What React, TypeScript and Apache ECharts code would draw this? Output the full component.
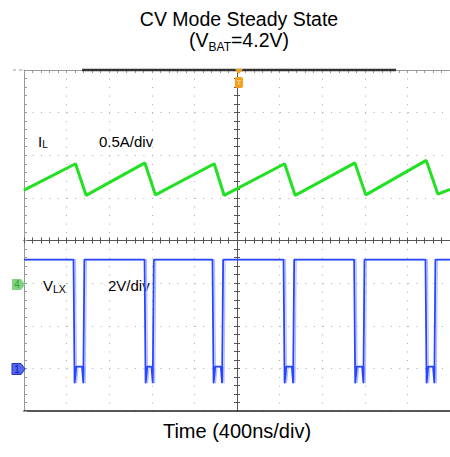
import React, { useEffect, useRef } from "react";
import * as echarts from "echarts";

const FONT = "'Liberation Sans', Arial, Helvetica, sans-serif";

// Horizontal: time in ns, 400 ns/div, 10 divisions, trigger at 0
const TIME_MIN = -2000;
const TIME_MAX = 2000;
const TIME_DIV = 400;
// Vertical screen divisions
const DIV_MIN = -4;
const DIV_MAX = 4;

// Inductor current I_L (A), 0.5 A/div, channel ground at -1 div
const IL_TIME = [-2000, -1516, -1417, -865, -766, -214, -121, 447, 546, 1107, 1209, 1777, 1886, 2000];
const IL_AMPS = [1.09, 1.40, 1.03, 1.41, 1.035, 1.40, 1.03, 1.40, 1.03, 1.41, 1.035, 1.44, 1.045, 1.10];
const IL_AXIS_MIN = -1.5;
const IL_AXIS_MAX = 2.5;

// Switch node V_LX (V), 2 V/div, channel ground at -3 div
const VLX_FALL = [-1535, -868, -230, 437, 1100, 1770];
const VLX_RISE = [-1433, -781, -130, 537, 1197, 1863];
const VLX_HIGH = 5.1;
const VLX_LOW = 0.08;
const VLX_SPIKE = -0.7;
const VLX_AXIS_MIN = -2;
const VLX_AXIS_MAX = 14;

function buildVlx(shift: number): number[][] {
  const pts: number[][] = [[TIME_MIN, VLX_HIGH]];
  VLX_FALL.forEach((f, i) => {
    const r = VLX_RISE[i];
    pts.push(
      [f + shift, VLX_HIGH],
      [f + shift + 10, VLX_SPIKE],
      [f + shift + 25, VLX_LOW],
      [r + shift - 22, VLX_LOW],
      [r + shift - 10, VLX_SPIKE],
      [r + shift, VLX_HIGH]
    );
  });
  pts.push([TIME_MAX, VLX_HIGH]);
  return pts;
}

const ilData = IL_TIME.map((t, i) => [t, IL_AMPS[i]]);

const GRID = { left: 24, top: 70, width: 430, height: 341 };
const DOT = [1, 7.53];
const GRID_DOT_COLOR = "#a8a8a8";
const BORDER_COLOR = "#9a9a9a";
const CENTER_COLOR = "#555555";

function App() {
  const ref = useRef<HTMLDivElement>(null);
  useEffect(() => {
    if (!ref.current) return;
    const chart = echarts.init(ref.current, undefined, { renderer: "svg" });
    const base = { type: "value", min: TIME_MIN, max: TIME_MAX, interval: TIME_DIV, axisLabel: { show: false } };
    const ybase = { type: "value", min: DIV_MIN, max: DIV_MAX, interval: 1, axisLabel: { show: false } };
    const option: any = {
      animation: false,
      backgroundColor: "#ffffff",
      grid: [{ ...GRID }, { ...GRID }, { ...GRID }],
      xAxis: [
        {
          ...base,
          gridIndex: 0,
          position: "bottom",
          axisLine: { show: true, onZero: false, lineStyle: { color: "#222", width: 1.5 } },
          axisTick: { show: false },
          splitLine: { show: true, lineStyle: { color: GRID_DOT_COLOR, width: 1, type: DOT } },
          name: "Time (400ns/div)",
          nameLocation: "middle",
          nameGap: 10,
          nameTextStyle: { fontSize: 20, color: "#000", fontFamily: FONT },
        },
        {
          ...base,
          gridIndex: 0,
          position: "top",
          axisLine: { show: true, onZero: false, lineStyle: { color: BORDER_COLOR, width: 1 } },
          axisTick: { show: true, inside: true, length: 3, lineStyle: { color: BORDER_COLOR } },
          minorTick: { show: true, splitNumber: 5, length: 3, lineStyle: { color: BORDER_COLOR } },
          splitLine: { show: false },
        },
        {
          ...base,
          gridIndex: 1,
          position: "bottom",
          axisLine: { show: true, onZero: true, onZeroAxisIndex: 2, lineStyle: { color: CENTER_COLOR, width: 1 } },
          axisTick: { show: true, inside: true, length: 3, lineStyle: { color: CENTER_COLOR } },
          minorTick: { show: true, splitNumber: 5, length: 3, lineStyle: { color: CENTER_COLOR } },
          splitLine: { show: false },
        },
        {
          ...base,
          gridIndex: 2,
          position: "bottom",
          axisLine: { show: true, onZero: true, onZeroAxisIndex: 4, lineStyle: { color: CENTER_COLOR, width: 1 } },
          axisTick: { show: true, inside: false, length: 3, lineStyle: { color: CENTER_COLOR } },
          minorTick: { show: true, splitNumber: 5, length: 3, lineStyle: { color: CENTER_COLOR } },
          splitLine: { show: false },
        },
      ],
      yAxis: [
        {
          ...ybase,
          gridIndex: 0,
          position: "left",
          axisLine: { show: true, onZero: false, lineStyle: { color: BORDER_COLOR, width: 1 } },
          axisTick: { show: true, inside: true, length: 3, lineStyle: { color: BORDER_COLOR } },
          minorTick: { show: true, splitNumber: 5, length: 3, lineStyle: { color: BORDER_COLOR } },
          splitLine: { show: true, lineStyle: { color: GRID_DOT_COLOR, width: 1, type: DOT } },
        },
        {
          type: "value",
          gridIndex: 0,
          position: "right",
          min: IL_AXIS_MIN,
          max: IL_AXIS_MAX,
          show: false,
          axisLine: { onZero: false },
        },
        {
          ...ybase,
          gridIndex: 1,
          position: "left",
          axisLine: { show: true, onZero: true, onZeroAxisIndex: 2, lineStyle: { color: CENTER_COLOR, width: 1 } },
          axisTick: { show: true, inside: true, length: 3, lineStyle: { color: CENTER_COLOR } },
          minorTick: { show: true, splitNumber: 5, length: 3, lineStyle: { color: CENTER_COLOR } },
          splitLine: { show: false },
        },
        {
          type: "value",
          gridIndex: 1,
          position: "right",
          min: VLX_AXIS_MIN,
          max: VLX_AXIS_MAX,
          show: false,
          axisLine: { onZero: false },
        },
        {
          ...ybase,
          gridIndex: 2,
          position: "left",
          axisLine: { show: true, onZero: true, onZeroAxisIndex: 3, lineStyle: { color: CENTER_COLOR, width: 1 } },
          axisTick: { show: true, inside: false, length: 3, lineStyle: { color: CENTER_COLOR } },
          minorTick: { show: true, splitNumber: 5, length: 3, lineStyle: { color: CENTER_COLOR } },
          splitLine: { show: false },
        },
      ],
      series: [
        {
          type: "line",
          xAxisIndex: 2,
          yAxisIndex: 3,
          data: buildVlx(18),
          showSymbol: false,
          symbol: "none",
          lineStyle: { color: "#b4bbff", width: 1.2 },
          z: 3,
        },
        {
          type: "line",
          xAxisIndex: 2,
          yAxisIndex: 3,
          data: buildVlx(0),
          showSymbol: false,
          symbol: "none",
          lineStyle: { color: "#2545ff", width: 1.8 },
          z: 4,
        },
        {
          type: "line",
          xAxisIndex: 0,
          yAxisIndex: 1,
          data: ilData,
          showSymbol: false,
          symbol: "none",
          lineStyle: { color: "#22e022", width: 3 },
          z: 5,
        },
      ],
      graphic: [
        {
          type: "text",
          x: 239,
          y: 7.5,
          style: {
            text: "{t|CV Mode Steady State}\n{m|(V}{s|BAT}{m|=4.2V)}",
            align: "center",
            verticalAlign: "top",
            fill: "#000",
            fontFamily: FONT,
            rich: {
              t: { fontSize: 19.5, lineHeight: 22, fontFamily: FONT, fill: "#000" },
              m: { fontSize: 19.5, lineHeight: 22, verticalAlign: "top", fontFamily: FONT, fill: "#000" },
              s: { fontSize: 12, lineHeight: 23, verticalAlign: "bottom", fontFamily: FONT, fill: "#000" },
            },
          },
        },
        {
          type: "text",
          x: 38,
          y: 134,
          style: {
            text: "{m|I}{s|L}",
            align: "left",
            verticalAlign: "top",
            fill: "#000",
            fontFamily: FONT,
            rich: {
              m: { fontSize: 15, lineHeight: 15, verticalAlign: "top", fontFamily: FONT, fill: "#000" },
              s: { fontSize: 10, lineHeight: 15, verticalAlign: "bottom", fontFamily: FONT, fill: "#000" },
            },
          },
        },
        {
          type: "text",
          x: 99,
          y: 141.5,
          style: { text: "0.5A/div", fontSize: 15, fontFamily: FONT, fill: "#000", align: "left", verticalAlign: "middle" },
        },
        {
          type: "text",
          x: 43,
          y: 278,
          style: {
            text: "{m|V}{s|LX}",
            align: "left",
            verticalAlign: "top",
            fill: "#000",
            fontFamily: FONT,
            rich: {
              m: { fontSize: 15, lineHeight: 15, verticalAlign: "top", fontFamily: FONT, fill: "#000" },
              s: { fontSize: 10.5, lineHeight: 16.5, verticalAlign: "bottom", fontFamily: FONT, fill: "#000" },
            },
          },
        },
        {
          type: "text",
          x: 108,
          y: 285.5,
          style: { text: "2V/div", fontSize: 15, fontFamily: FONT, fill: "#000", align: "left", verticalAlign: "middle" },
        },
        // record-length bar on top border
        { type: "line", z: 6, shape: { x1: 82, y1: 70, x2: 396, y2: 70 }, style: { stroke: "#333", lineWidth: 2.5 } },
        { type: "line", z: 6, shape: { x1: 13, y1: 70, x2: 24, y2: 70 }, style: { stroke: "#999", lineWidth: 1, lineDash: [3, 3] } },
        // trigger marker
        { type: "polygon", z: 10, shape: { points: [[235, 69], [243, 69], [239, 74]] }, style: { fill: "#f5a01a" } },
        { type: "rect", z: 10, shape: { x: 235, y: 77, width: 8, height: 11, r: 2 }, style: { fill: "#f5a01a" } },
        { type: "text", z: 11, x: 239, y: 82.5, style: { text: "T", fontSize: 8, fontFamily: FONT, fill: "#ffe2b5", align: "center", verticalAlign: "middle" } },
        // channel 4 ground marker
        { type: "polygon", z: 10, shape: { points: [[12, 279], [21, 279], [25, 284.5], [21, 290], [12, 290]] }, style: { fill: "#7fd47f" } },
        { type: "text", z: 11, x: 17, y: 284.5, style: { text: "4", fontSize: 10, fontFamily: FONT, fill: "#3a9a3a", align: "center", verticalAlign: "middle" } },
        // channel 1 ground marker
        { type: "polygon", z: 10, shape: { points: [[12, 363.5], [21, 363.5], [25, 369], [21, 374.5], [12, 374.5]] }, style: { fill: "#5566ee", stroke: "#2233cc", lineWidth: 1 } },
        { type: "text", z: 11, x: 17, y: 369, style: { text: "1", fontSize: 10, fontFamily: FONT, fill: "#13209a", align: "center", verticalAlign: "middle" } },
      ],
    };
    chart.setOption(option);
    return () => chart.dispose();
  }, []);
  return (
    <div
      ref={ref}
      style={{ position: "absolute", left: 0, top: 0, width: 450, height: 457, background: "#fff" }}
    />
  );
}

export default App;
